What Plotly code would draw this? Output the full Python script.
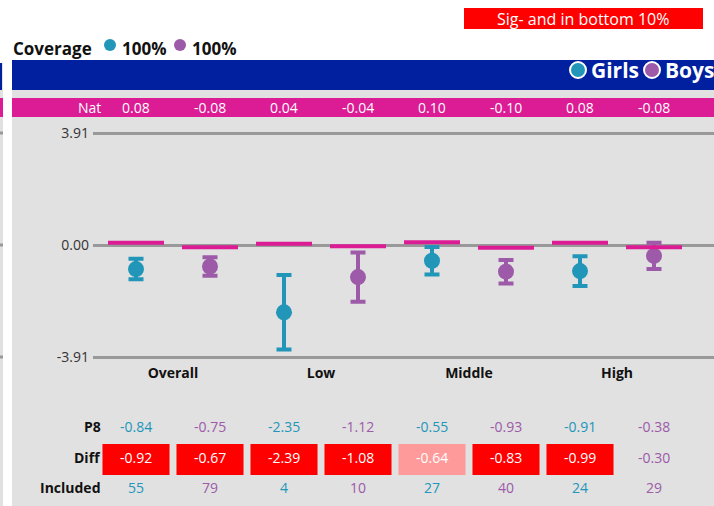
import plotly.graph_objects as go

W, H = 714, 506

groups = ["Overall", "Low", "Middle", "High"]
series = ["Girls", "Boys"]
colors = {"Girls": "#2196B9", "Boys": "#9C5AA8"}

# one entry per (group, series): Girls, Boys, Girls, Boys ...
nat = [0.08, -0.08, 0.04, -0.04, 0.10, -0.10, 0.08, -0.08]
p8 = [-0.84, -0.75, -2.35, -1.12, -0.55, -0.93, -0.91, -0.38]
ci = [0.36, 0.32, 1.30, 0.86, 0.48, 0.41, 0.52, 0.46]
diff = [-0.92, -0.67, -2.39, -1.08, -0.64, -0.83, -0.99, -0.30]
diff_flag = ["sig", "sig", "sig", "sig", "weak", "sig", "sig", None]
included = [55, 79, 4, 10, 27, 40, 24, 29]
coverage = ["100%", "100%"]
y_lim = 3.91

FONT = "Open Sans"
flag_fill = {"sig": "#FF0000", "weak": "#FF9A9A"}

def px(x):
    return x / W

def py(y):
    return 1 - y / H

xs = list(range(len(p8)))
ser = [series[i % 2] for i in xs]
col = [colors[s] for s in ser]

fig = go.Figure()

for s in series:
    idx = [i for i in xs if ser[i] == s]
    fig.add_trace(go.Scatter(
        x=idx, y=[p8[i] for i in idx], mode="markers",
        marker=dict(size=16, color=colors[s]),
        error_y=dict(type="data", array=[ci[i] for i in idx], color=colors[s],
                     thickness=4, width=7.5),
        showlegend=False, hoverinfo="skip"))

fig.add_trace(go.Scatter(
    x=xs, y=nat, mode="markers",
    marker=dict(symbol="line-ew", size=40, line=dict(color="#DC1C94", width=4)),
    showlegend=False, hoverinfo="skip"))

shapes = []
ann = []

# background panels
shapes.append(dict(type="rect", xref="paper", yref="paper", x0=px(12), x1=px(W), y0=py(H), y1=py(60),
                   fillcolor="#E1E1E1", line_width=0, layer="below"))
shapes.append(dict(type="rect", xref="paper", yref="paper", x0=px(0), x1=px(3), y0=py(H), y1=py(63),
                   fillcolor="#E1E1E1", line_width=0, layer="below"))
shapes.append(dict(type="rect", xref="paper", yref="paper", x0=px(0), x1=px(2), y0=py(90), y1=py(63),
                   fillcolor="#00209F", line_width=0, layer="below"))
shapes.append(dict(type="rect", xref="paper", yref="paper", x0=px(0), x1=px(3), y0=py(117), y1=py(98),
                   fillcolor="#DC1C94", line_width=0, layer="below"))
for yy in [133, 245, 357]:
    shapes.append(dict(type="rect", xref="paper", yref="paper", x0=px(0), x1=px(3), y0=py(yy + 1.5), y1=py(yy - 1.5),
                       fillcolor="#999999", line_width=0, layer="below"))
# blue banner
shapes.append(dict(type="rect", xref="paper", yref="paper", x0=px(12), x1=px(W), y0=py(90), y1=py(60),
                   fillcolor="#00209F", line_width=0, layer="below"))
# magenta band
shapes.append(dict(type="rect", xref="paper", yref="paper", x0=px(12), x1=px(W), y0=py(117), y1=py(98),
                   fillcolor="#DC1C94", line_width=0, layer="below"))
# key box
shapes.append(dict(type="rect", xref="paper", yref="paper", x0=px(464), x1=px(703), y0=py(29), y1=py(8),
                   fillcolor="#FF0000", line_width=0, layer="below"))
ann.append(dict(text="Sig- and in bottom 10%", xref="paper", yref="paper", x=px(583), y=py(18.5),
                showarrow=False, font=dict(family=FONT, size=16, color="white"), xanchor="center", yanchor="middle"))

# coverage legend
ann.append(dict(text="<b>Coverage</b>", xref="paper", yref="paper", x=px(11), y=py(48),
                showarrow=False, font=dict(family=FONT, size=17, color="#111"), xanchor="left", yanchor="middle"))
cov_x = [110, 180]
for s, cx, cv in zip(series, cov_x, coverage):
    shapes.append(dict(type="circle", xref="paper", yref="paper", x0=px(cx - 6), x1=px(cx + 6),
                       y0=py(51), y1=py(39), fillcolor=colors[s], line_width=0))
    ann.append(dict(text="<b>" + cv + "</b>", xref="paper", yref="paper", x=px(cx + 10), y=py(48),
                    showarrow=False, font=dict(family=FONT, size=17, color="#111"), xanchor="left", yanchor="middle"))

# series legend in banner
leg_x = [578, 652]
for s, cx in zip(series, leg_x):
    shapes.append(dict(type="circle", xref="paper", yref="paper", x0=px(cx - 8), x1=px(cx + 8),
                       y0=py(78), y1=py(62), fillcolor=colors[s], line=dict(color="white", width=2)))
    ann.append(dict(text="<b>" + s + "</b>", xref="paper", yref="paper", x=px(cx + 11), y=py(70.5),
                    showarrow=False, font=dict(family=FONT, size=21, color="white"), xanchor="left", yanchor="middle"))

# Nat row
ann.append(dict(text="Nat", xref="paper", yref="paper", x=px(103), y=py(107.5), showarrow=False,
                font=dict(family=FONT, size=14, color="white"), xanchor="right", yanchor="middle"))
for i in xs:
    ann.append(dict(text=f"{nat[i]:.2f}", xref="x", yref="paper", x=i, y=py(107.5), showarrow=False,
                    font=dict(family=FONT, size=14, color="white"), xanchor="center", yanchor="middle"))

# table rows
rows_y = {"P8": 426, "Diff": 457, "Included": 487}
for lab, yy in rows_y.items():
    ann.append(dict(text="<b>" + lab + "</b>", xref="paper", yref="paper", x=px(103), y=py(yy), showarrow=False,
                    font=dict(family=FONT, size=14, color="#111"), xanchor="right", yanchor="middle"))
for i in xs:
    ann.append(dict(text=f"{p8[i]:.2f}", xref="x", yref="paper", x=i, y=py(rows_y["P8"]), showarrow=False,
                    font=dict(family=FONT, size=14, color=col[i]), xanchor="center", yanchor="middle"))
    f = diff_flag[i]
    if f:
        shapes.append(dict(type="rect", xref="x", yref="paper", x0=i - 0.453, x1=i + 0.453,
                           y0=py(475), y1=py(444), fillcolor=flag_fill[f], line_width=0))
    ann.append(dict(text=f"{diff[i]:.2f}", xref="x", yref="paper", x=i, y=py(rows_y["Diff"]), showarrow=False,
                    font=dict(family=FONT, size=14, color="white" if f else col[i]), xanchor="center", yanchor="middle"))
    ann.append(dict(text=str(included[i]), xref="x", yref="paper", x=i, y=py(rows_y["Included"]), showarrow=False,
                    font=dict(family=FONT, size=14, color=col[i]), xanchor="center", yanchor="middle"))

x0 = -43 / 74
pad = 1.02
half_px = 112 * pad
fig.update_layout(
    width=W, height=H, margin=dict(l=0, r=0, t=0, b=0, autoexpand=False),
    paper_bgcolor="white", plot_bgcolor="rgba(0,0,0,0)",
    shapes=shapes, annotations=ann,
    xaxis=dict(domain=[px(93), 1], range=[x0, x0 + 621 / 74], showgrid=False, zeroline=False,
               tickmode="array", tickvals=[2 * g + 0.5 for g in range(len(groups))],
               ticktext=["<b>" + g + "</b>" for g in groups], ticks="", ticklen=0, ticklabelstandoff=4,
               tickfont=dict(family=FONT, size=14, color="#111"), showline=False),
    yaxis=dict(domain=[py(245 + half_px), py(245 - half_px)], range=[-y_lim * pad, y_lim * pad], tickmode="array",
               tickvals=[y_lim, 0, -y_lim], ticktext=[f"{y_lim:.2f}", "0.00", f"{-y_lim:.2f}"],
               showgrid=True, gridcolor="#999999", gridwidth=3, zeroline=False, ticks="", ticklabelstandoff=3,
               tickfont=dict(family=FONT, size=14, color="#333"), showline=False),
    showlegend=False,
)

fig.write_html("out.html", config={"displayModeBar": False},
               post_script="document.body.style.margin='0';document.body.style.overflow='hidden';")
